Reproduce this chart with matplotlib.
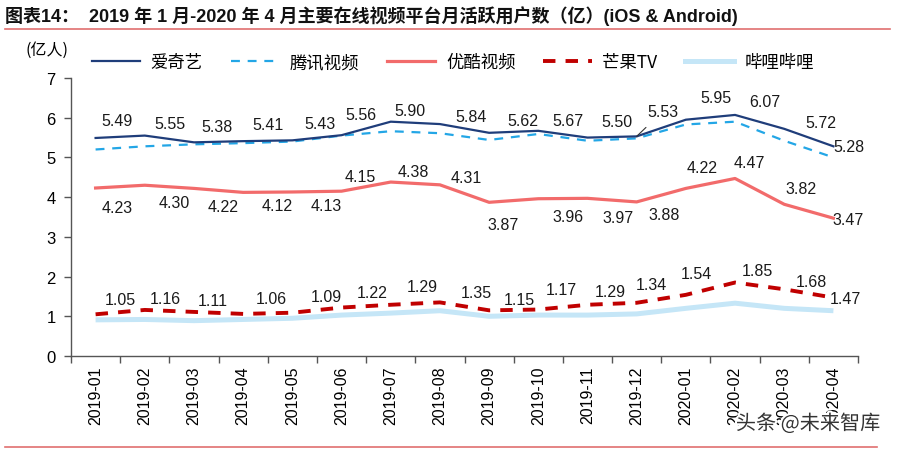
import matplotlib
matplotlib.use("Agg")
import matplotlib.pyplot as plt
from matplotlib.lines import Line2D
import matplotlib.patheffects as pe
import numpy as np

plt.rcParams['font.family'] = ['Liberation Sans', 'Noto Sans CJK SC', 'DejaVu Sans']

months = ["2019-01", "2019-02", "2019-03", "2019-04", "2019-05", "2019-06", "2019-07", "2019-08",
          "2019-09", "2019-10", "2019-11", "2019-12", "2020-01", "2020-02", "2020-03", "2020-04"]
iqiyi = [5.49, 5.55, 5.38, 5.41, 5.43, 5.56, 5.90, 5.84, 5.62, 5.67, 5.50, 5.53, 5.95, 6.07, 5.72, 5.28]
tencent = [5.20, 5.28, 5.33, 5.36, 5.40, 5.55, 5.66, 5.61, 5.44, 5.59, 5.42, 5.48, 5.83, 5.90, 5.42, 5.00]
youku = [4.23, 4.30, 4.22, 4.12, 4.13, 4.15, 4.38, 4.31, 3.87, 3.96, 3.97, 3.88, 4.22, 4.47, 3.82, 3.47]
mango = [1.05, 1.16, 1.11, 1.06, 1.09, 1.22, 1.29, 1.35, 1.15, 1.17, 1.29, 1.34, 1.54, 1.85, 1.68, 1.47]
bilibili = [0.91, 0.92, 0.89, 0.92, 0.95, 1.03, 1.08, 1.14, 1.00, 1.03, 1.03, 1.06, 1.20, 1.33, 1.20, 1.14]
names = ["爱奇艺", "腾讯视频", "优酷视频", "芒果TV", "哔哩哔哩"]

# label offsets in pixels (dx, dy up)
iqiyi_off = [(21, 17), (25, 12), (23, 16), (25, 17), (28, 17), (19, 21), (19, 11), (31, 8),
             (34, 12), (30, 10), (29, 16), (26, 25), (30, 22), (30, 13), (37, 6), (16, 0)]
youku_off = [(22, -19), (29, -17), (29, -18), (34, -13), (34, -14), (19, 15), (23, 11), (26, 7),
             (14, -22), (30, -18), (31, -19), (27, -13), (16, 21), (14, 16), (17, 16), (15, -1)]
mango_off = [(25, 15), (21, 11), (19, 11), (28, 15), (34, 16), (31, 15), (32, 18), (36, 10),
             (30, 11), (23, 20), (23, 13), (15, 18), (11, 21), (22, 12), (27, 8), (12, -1)]

fig = plt.figure(figsize=(9.05, 4.52), dpi=100)
ax = fig.add_axes([71/905, 1-357/452, (858-71)/905, (357-79)/452])

x = np.arange(len(months))
c_iq = "#1F3D7A"
c_tx = "#23A6E6"
c_yk = "#F26B6B"
c_mg = "#C00000"
c_bl = "#C5E6F7"

ax.plot(x, bilibili, color=c_bl, lw=3.6, solid_capstyle='butt', zorder=2)
ax.plot(x, mango, color=c_mg, lw=2.8, dashes=(3.2, 2.6), zorder=3)
ax.plot(x, youku, color=c_yk, lw=2.3, zorder=3)
ax.plot(x, tencent, color=c_tx, lw=1.6, dashes=(4, 3.5), zorder=3)
ax.plot(x, iqiyi, color=c_iq, lw=1.6, zorder=4)

fs = 11.5
for i in range(len(x)):
    kw = {}
    if i == 11:
        kw = dict(arrowprops=dict(arrowstyle='-', color='#333333', lw=0.8, shrinkA=6, shrinkB=0))
    ax.annotate(f"{iqiyi[i]:.2f}", (x[i], iqiyi[i]), xytext=iqiyi_off[i], textcoords='offset pixels',
                ha='center', va='center', fontsize=fs, color='#1a1a1a', zorder=6, **kw)
    ax.annotate(f"{youku[i]:.2f}", (x[i], youku[i]), xytext=youku_off[i], textcoords='offset pixels',
                ha='center', va='center', fontsize=fs, color='#1a1a1a', zorder=6)
    ax.annotate(f"{mango[i]:.2f}", (x[i], mango[i]), xytext=mango_off[i], textcoords='offset pixels',
                ha='center', va='center', fontsize=fs, color='#1a1a1a', zorder=6)

ax.set_xlim(-0.5, len(x) - 0.5)
ax.set_ylim(0, 7)
ax.set_yticks(range(0, 8))
ax.set_xticks(x)
ax.set_xticklabels(months, rotation=90, fontsize=11.5)
ax.set_xticks(np.arange(-0.5, len(x), 1), minor=True)
ax.tick_params(axis='x', which='major', length=0, pad=7)
ax.tick_params(axis='x', which='minor', length=5, width=1, color='#555555', direction='out')
ax.tick_params(axis='y', length=5, width=1, color='#555555', labelsize=12, pad=6)
for s in ['top', 'right']:
    ax.spines[s].set_visible(False)
for s in ['left', 'bottom']:
    ax.spines[s].set_color('#555555')
    ax.spines[s].set_linewidth(1)

handles = [
    Line2D([], [], color=c_iq, lw=1.6),
    Line2D([], [], color=c_tx, lw=1.6, dashes=(4, 3.5)),
    Line2D([], [], color=c_yk, lw=2.3),
    Line2D([], [], color=c_mg, lw=2.8, dashes=(3.2, 2.6)),
    Line2D([], [], color=c_bl, lw=3.6),
]
fig.legend(handles, names, loc='center left', bbox_to_anchor=(76/905, 1-63/452), ncol=5,
           frameon=False, handlelength=2.8, handletextpad=0.6, columnspacing=1.6,
           prop={'family': ['Noto Sans CJK SC', 'Liberation Sans'], 'size': 12.5})

fig.text(47/905, 1-50/452, "(亿人)", ha='center', va='center', fontsize=11.5,
         family=['Noto Sans CJK SC', 'Liberation Sans'])

fig.text(5/905, 1-16/452, "图表14：  2019 年 1 月-2020 年 4 月主要在线视频平台月活跃用户数（亿）(iOS & Android)",
         ha='left', va='center', fontsize=13, fontweight='bold', color='#111111',
         family=['Liberation Sans', 'Noto Sans CJK SC'])
fig.add_artist(Line2D([5/905, 890/905], [1-30/452, 1-30/452], color='#E07070', lw=1.2))
fig.add_artist(Line2D([5/905, 877/905], [1-448/452, 1-448/452], color='#E07070', lw=1.2))

fig.text(808/905, 1-425/452, "头条 @未来智库", ha='center', va='center', fontsize=14.5,
         color='#333333', family=['Noto Sans CJK SC', 'DejaVu Sans'],
         path_effects=[pe.withStroke(linewidth=3, foreground='white')])

fig.savefig("out.png", dpi=100)
